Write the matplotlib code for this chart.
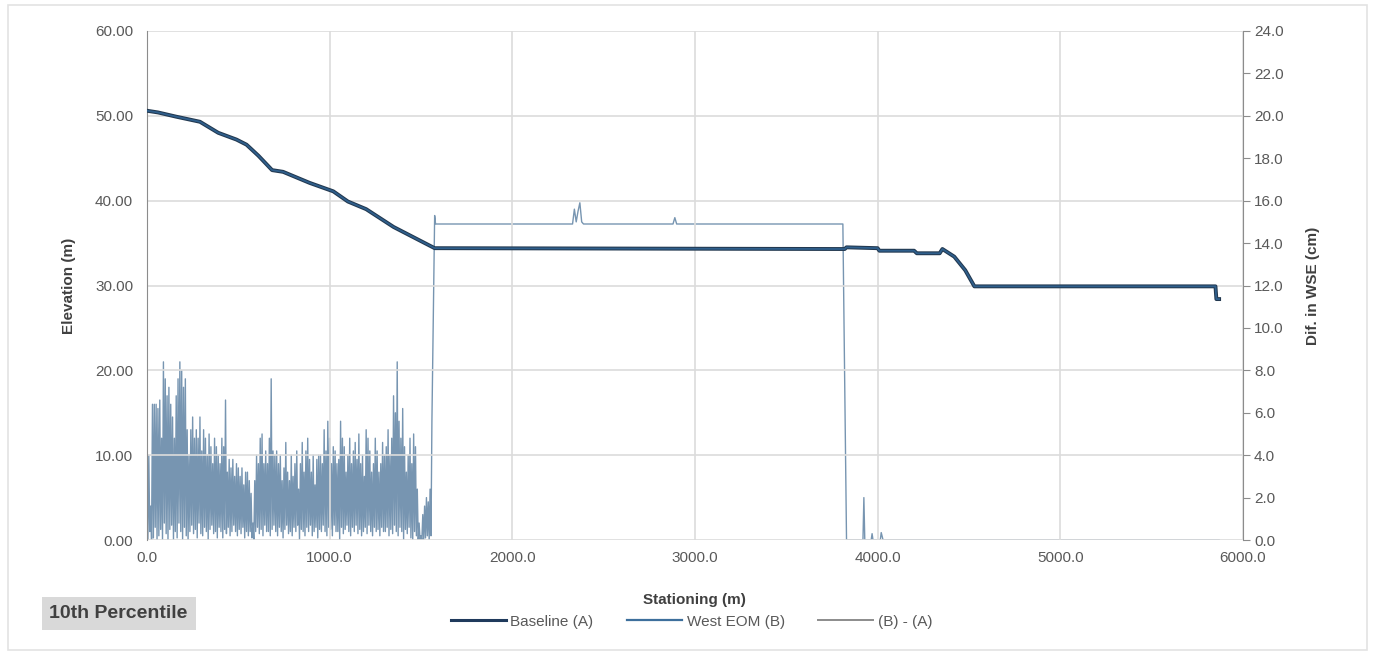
import numpy as np
import matplotlib
matplotlib.use("Agg")
import matplotlib.pyplot as plt
from matplotlib.ticker import FormatStrFormatter, MultipleLocator
from matplotlib.patches import Rectangle

plt.rcParams['font.family'] = ['Liberation Sans', 'DejaVu Sans']

# water surface profile (same for baseline and west EOM at this scale)
sta_wse = [0, 60, 160, 290, 390, 490, 545, 610, 685, 745, 890, 1020, 1100, 1200, 1350, 1575,
           3820, 3830, 4000, 4010, 4200, 4215, 4340, 4355, 4420, 4480, 4530, 5850, 5855, 5870]
baseline = [50.6, 50.4, 49.9, 49.3, 48.0, 47.2, 46.6, 45.3, 43.6, 43.4, 42.1, 41.1, 39.9, 39.0, 36.9, 34.4,
            34.3, 34.5, 34.4, 34.1, 34.1, 33.8, 33.8, 34.3, 33.4, 31.8, 29.9, 29.9, 28.4, 28.4]
west_eom = [50.6, 50.4, 49.9, 49.3, 48.0, 47.2, 46.6, 45.3, 43.6, 43.4, 42.1, 41.1, 39.9, 39.0, 36.9, 34.4,
            34.3, 34.5, 34.4, 34.1, 34.1, 33.8, 33.8, 34.3, 33.4, 31.8, 29.9, 29.9, 28.4, 28.4]

# difference (cm) in upstream reach: local highs every 10 m and the lows between them
sta_peaks = np.arange(0, 1570, 10)
diff_peaks = [4.6, 4.0, 1.6, 6.4, 6.4, 6.4, 6.2, 6.6, 4.8, 8.4,
              7.6, 6.8, 7.2, 6.4, 5.8, 4.8, 6.8, 7.6, 8.4, 8.0,
              7.2, 7.6, 5.2, 4.0, 5.2, 5.8, 4.8, 5.2, 4.8, 5.8,
              4.2, 5.2, 4.8, 4.0, 5.0, 4.4, 3.6, 4.8, 4.4, 4.0,
              3.6, 4.8, 4.4, 6.6, 3.2, 3.8, 3.4, 3.8, 3.0, 3.6,
              3.4, 3.0, 3.4, 2.6, 3.2, 3.2, 2.8, 2.2, 0.8, 2.8,
              4.0, 3.6, 4.8, 5.0, 3.6, 4.2, 3.6, 4.8, 7.6, 4.2,
              4.0, 4.2, 3.6, 4.0, 2.8, 3.4, 4.6, 3.2, 2.8, 4.0,
              3.0, 3.6, 4.2, 2.4, 3.6, 4.6, 3.2, 4.2, 4.8, 3.8,
              3.2, 4.0, 2.6, 3.8, 4.0, 4.0, 3.6, 5.2, 4.2, 5.6,
              4.8, 3.6, 4.4, 4.2, 3.6, 3.8, 5.6, 4.8, 4.4, 3.2,
              4.0, 4.8, 3.6, 4.2, 4.6, 3.8, 5.0, 3.6, 4.0, 3.0,
              5.2, 4.8, 4.2, 3.2, 3.6, 4.8, 4.2, 3.2, 3.6, 4.6,
              4.0, 4.4, 5.2, 4.0, 4.8, 6.8, 6.0, 8.4, 5.6, 4.8,
              6.2, 4.4, 3.2, 4.0, 4.8, 3.6, 5.0, 4.4, 2.4, 0.8,
              0.2, 1.2, 1.6, 2.0, 1.8, 2.4, 5.6]
sta_lows = np.arange(5, 1560, 10)
diff_lows = [0.0, 0.4, 0.0, 0.1, 0.6, 0.0, 0.2, 0.5, 0.0, 0.8,
             0.3, 0.0, 0.5, 0.7, 0.0, 0.4, 0.1, 0.8, 0.4, 0.0,
             0.6, 0.2, 0.0, 0.4, 0.7, 0.3, 0.5, 0.1, 0.8, 0.3,
             0.2, 0.6, 0.4, 0.0, 0.5, 0.7, 0.3, 0.4, 0.1, 0.6,
             0.4, 0.1, 0.5, 0.3, 0.6, 0.2, 0.4, 0.7, 0.4, 0.2,
             0.5, 0.3, 0.6, 0.1, 0.4, 0.2, 0.4, 0.1, 0.0, 0.4,
             0.6, 0.3, 0.5, 0.2, 0.7, 0.4, 0.4, 0.2, 0.5, 0.7,
             0.4, 0.2, 0.6, 0.4, 0.1, 0.5, 0.7, 0.3, 0.4, 0.2,
             0.6, 0.4, 0.7, 0.0, 0.5, 0.4, 0.2, 0.6, 0.4, 0.7,
             0.2, 0.4, 0.6, 0.1, 0.5, 0.4, 0.7, 0.4, 0.2, 0.6,
             0.5, 0.2, 0.7, 0.4, 0.4, 0.0, 0.6, 0.3, 0.5, 0.7,
             0.4, 0.2, 0.6, 0.4, 0.7, 0.3, 0.5, 0.2, 0.4, 0.6,
             0.3, 0.7, 0.4, 0.2, 0.6, 0.4, 0.5, 0.2, 0.6, 0.4,
             0.4, 0.6, 0.2, 0.5, 0.3, 0.7, 0.4, 0.2, 0.6, 0.4,
             0.0, 0.5, 0.3, 0.6, 0.1, 0.0, 0.4, 0.2, 0.0, 0.0,
             0.0, 0.0, 0.1, 0.2, 0.0, 0.2]
# difference downstream of 1570 m
sta_diff2 = [1575, 1580, 2330, 2340, 2350, 2360, 2370, 2380, 2390, 2880, 2890, 2900, 3810,
             3830, 3920, 3925, 3930, 3965, 3970, 3975, 4015, 4020, 4030, 5870]
diff2 = [15.3, 14.9, 14.9, 15.6, 15.0, 15.5, 15.9, 15.0, 14.9, 14.9, 15.2, 14.9, 14.9,
         0.0, 0.0, 2.0, 0.0, 0.0, 0.3, 0.0, 0.0, 0.35, 0.0, 0.0]

# merge highs and lows in stationing order
up = sorted(zip(list(sta_peaks) + list(sta_lows), diff_peaks + diff_lows))
sta_diff = [p[0] for p in up] + sta_diff2
diff = [p[1] for p in up] + diff2

fig = plt.figure(figsize=(13.75, 6.58), dpi=100)
fig.patches.append(Rectangle((0.006, 0.012), 0.988, 0.98, transform=fig.transFigure,
                             fill=False, edgecolor='#e3e3e3', lw=1.2))
ax = fig.add_axes([0.1069, 0.1793, 0.797, 0.7736])
ax2 = ax.twinx()

grid_c = '#dcdcdc'
ax.set_xlim(0, 6000)
ax.set_ylim(0, 60)
ax2.set_ylim(0, 24)
ax.xaxis.set_major_locator(MultipleLocator(1000))
ax.yaxis.set_major_locator(MultipleLocator(10))
ax2.yaxis.set_major_locator(MultipleLocator(2))
ax.xaxis.set_major_formatter(FormatStrFormatter('%.1f'))
ax.yaxis.set_major_formatter(FormatStrFormatter('%.2f'))
ax2.yaxis.set_major_formatter(FormatStrFormatter('%.1f'))
ax.grid(True, color=grid_c, lw=1.2)
ax.set_axisbelow(True)

for a in (ax, ax2):
    for s in a.spines.values():
        s.set_visible(False)
ax.spines['left'].set_visible(True)
ax.spines['left'].set_color('#8c8c8c')
ax2.spines['right'].set_visible(True)
ax2.spines['right'].set_color('#8c8c8c')

lab_c = '#595959'
ax.tick_params(axis='y', length=0, labelsize=11, labelcolor=lab_c, pad=10)
ax.tick_params(axis='x', length=0, labelsize=11, labelcolor=lab_c, pad=8)
ax2.tick_params(axis='y', length=5, color='#8c8c8c', labelsize=11, labelcolor=lab_c, pad=3)

l3, = ax2.plot(sta_diff, diff, color='#7795b1', lw=1.0, label='(B) - (A)', zorder=2)
l1, = ax.plot(sta_wse, baseline, color='#22384f', lw=2.8, label='Baseline (A)', zorder=3)
l2, = ax.plot(sta_wse, west_eom, color='#2f5f8c', lw=1.3, label='West EOM (B)', zorder=4)
ax.set_zorder(ax2.get_zorder() + 1)
ax.patch.set_visible(False)

ax.set_xlabel('Stationing (m)', fontsize=11, fontweight='bold', color='#404040', labelpad=20)
ax.set_ylabel('Elevation (m)', fontsize=11, fontweight='bold', color='#404040', labelpad=14)
ax2.set_ylabel('Dif. in WSE (cm)', fontsize=11, fontweight='bold', color='#404040', labelpad=16)

leg_l1 = plt.Line2D([], [], color='#1f3a5c', lw=2.2)
leg_l2 = plt.Line2D([], [], color='#3d6f9c', lw=1.6)
leg_l3 = plt.Line2D([], [], color='#8c8c8c', lw=1.4)
fig.legend([leg_l1, leg_l2, leg_l3], ['Baseline (A)', 'West EOM (B)', '(B) - (A)'],
           loc='center', bbox_to_anchor=(0.503, 0.055), ncol=3, frameon=False,
           fontsize=11, labelcolor=lab_c, handlelength=3.6, handletextpad=0.3, columnspacing=2.2)

fig.text(0.036, 0.0675, '10th Percentile', fontsize=14, fontweight='bold', color='#404040',
         va='center', ha='left',
         bbox=dict(boxstyle='square,pad=0.4', facecolor='#d9d9d9', edgecolor='none'))

fig.savefig('out.png', dpi=100)
